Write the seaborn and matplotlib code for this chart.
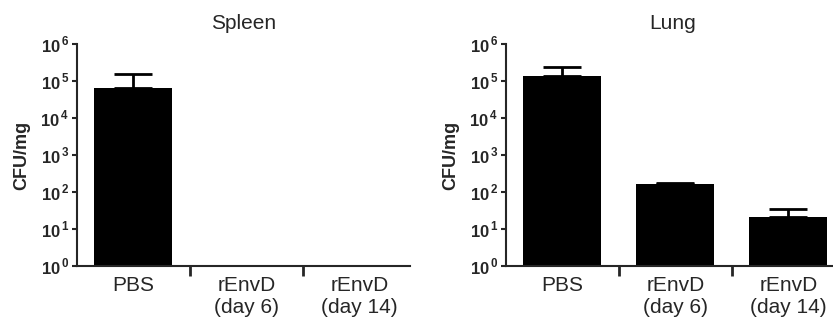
import numpy as np
import pandas as pd
import matplotlib
matplotlib.use("Agg")
import matplotlib.pyplot as plt
from matplotlib.ticker import FixedLocator, FuncFormatter, NullFormatter
import seaborn as sns

# values (CFU/mg, mean and upper error)
groups = ["PBS", "rEnvD\n(day 6)", "rEnvD\n(day 14)"]
spleen_mean = [6.3e4, 0, 0]
spleen_upper = [1.55e5, 0, 0]
lung_mean = [1.4e5, 165, 21]
lung_upper = [2.45e5, 180, 34]
decades = [0, 1, 2, 3, 4, 5, 6]

sns.set_style("ticks")
plt.rcParams["font.family"] = ["Liberation Sans", "DejaVu Sans"]
plt.rcParams["mathtext.fontset"] = "custom"
plt.rcParams["mathtext.bf"] = "Liberation Sans:bold"
plt.rcParams["mathtext.rm"] = "Liberation Sans"

fig = plt.figure(figsize=(8.33, 3.23), dpi=100)
ax1 = fig.add_axes([0.0924, 0.1765, 0.40, 0.6873])
ax2 = fig.add_axes([0.6074, 0.1765, 0.40, 0.6873])


def draw(ax, title, mean, upper):
    df = pd.DataFrame({"group": groups, "cfu": mean})
    sns.barplot(data=df, x="group", y="cfu", color="black", width=0.69,
                saturation=1, ax=ax, edgecolor="black", linewidth=0)
    ax.set_yscale("log")
    x = np.arange(len(groups))
    m = np.array(mean, dtype=float)
    u = np.array(upper, dtype=float)
    keep = m > 0
    ax.errorbar(x[keep], m[keep], yerr=[np.zeros(keep.sum()), (u - m)[keep]],
                fmt="none", ecolor="black", elinewidth=2, capsize=14,
                capthick=2)
    ax.set_ylim(1, 1e6)
    ax.set_xlim(-0.5, 2.45)
    ax.yaxis.set_major_locator(FixedLocator([10.0 ** d for d in decades]))
    ax.yaxis.set_minor_locator(FixedLocator([]))
    ax.yaxis.set_major_formatter(
        FuncFormatter(lambda v, p: r"$\mathbf{10}^{\,\mathbf{%d}}$" % round(np.log10(v))))
    ax.tick_params(axis="y", which="major", length=3.5, width=1.5,
                   labelsize=12, pad=2)
    ax.xaxis.set_minor_locator(FixedLocator([0.5, 1.5]))
    ax.xaxis.set_minor_formatter(NullFormatter())
    ax.tick_params(axis="x", which="major", length=0, labelsize=15, pad=7)
    ax.tick_params(axis="x", which="minor", length=7, width=2,
                   direction="out")
    for s in ["top", "right"]:
        ax.spines[s].set_visible(False)
    for s in ["left", "bottom"]:
        ax.spines[s].set_linewidth(1.5)
    ax.set_xlabel("")
    ax.set_ylabel("CFU/mg", fontsize=13, fontweight="bold", labelpad=7)
    ax.set_title(title, fontsize=15, pad=11)


draw(ax1, "Spleen", spleen_mean, spleen_upper)
draw(ax2, "Lung", lung_mean, lung_upper)

fig.savefig("out.png", dpi=100)
